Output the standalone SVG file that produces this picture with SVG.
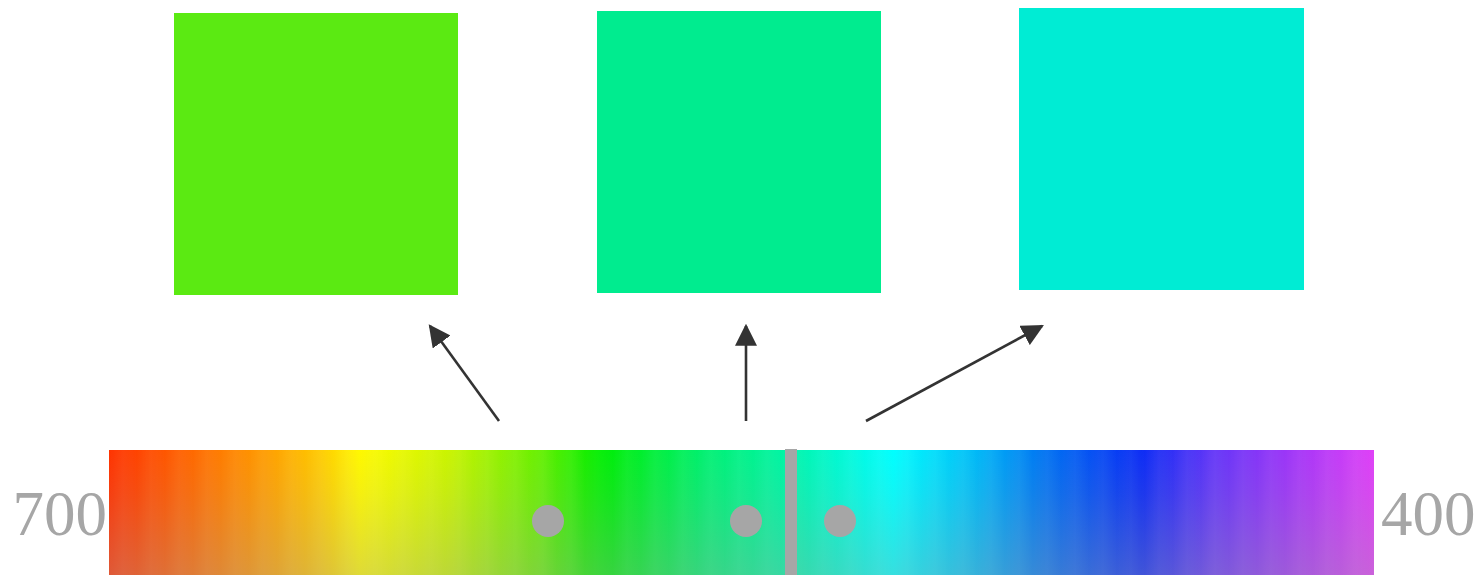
<svg xmlns="http://www.w3.org/2000/svg" width="1480" height="575" viewBox="0 0 1480 575">
  <style>
    .lbl { font-family: "Liberation Serif", "Times New Roman", serif; font-size: 63px; fill: #A6A6A6; }
    .conn { stroke: #333333; stroke-width: 2.6; fill: none; marker-end: url(#arr); }
    .dot { fill: #A6A6A6; }
  </style>
  <defs>
    <marker id="arr" viewBox="0 0 10 10" refX="9" refY="5" markerWidth="22" markerHeight="22" markerUnits="userSpaceOnUse" orient="auto">
      <path d="M0,0 L10,5 L0,10 z" fill="#333333"/>
    </marker>
    <linearGradient id="spec" gradientUnits="userSpaceOnUse" x1="109" y1="0" x2="1374" y2="0">
      <stop offset="0" stop-color="#FF3300"/>
      <stop offset="0.017" stop-color="#FF3F00"/>
      <stop offset="0.072" stop-color="#FF6E00"/>
      <stop offset="0.127" stop-color="#FFA000"/>
      <stop offset="0.165" stop-color="#FFC800"/>
      <stop offset="0.198" stop-color="#FFF800"/>
      <stop offset="0.215" stop-color="#F4FA00"/>
      <stop offset="0.27" stop-color="#C8F400"/>
      <stop offset="0.34" stop-color="#66F000"/>
      <stop offset="0.388" stop-color="#00EE00"/>
      <stop offset="0.47" stop-color="#00F070"/>
      <stop offset="0.534" stop-color="#00F5A5"/>
      <stop offset="0.60" stop-color="#00FCEC"/>
      <stop offset="0.62" stop-color="#00FFFF"/>
      <stop offset="0.68" stop-color="#00C0F8"/>
      <stop offset="0.74" stop-color="#0072F2"/>
      <stop offset="0.815" stop-color="#0A2CF5"/>
      <stop offset="0.87" stop-color="#6035F8"/>
      <stop offset="0.94" stop-color="#A535F8"/>
      <stop offset="1" stop-color="#E040F8"/>
    </linearGradient>
    <linearGradient id="fade" x1="0" y1="0" x2="0" y2="1">
      <stop offset="0" stop-color="#A0A0A0" stop-opacity="0"/>
      <stop offset="0.35" stop-color="#A0A0A0" stop-opacity="0.1"/>
      <stop offset="1" stop-color="#A0A0A0" stop-opacity="0.34"/>
    </linearGradient>
    <linearGradient id="stripeGrad" x1="0" y1="0" x2="1" y2="0">
      <stop offset="0" stop-color="#FFFFFF" stop-opacity="0"/>
      <stop offset="0.5" stop-color="#FFFFFF" stop-opacity="0.045"/>
      <stop offset="1" stop-color="#FFFFFF" stop-opacity="0"/>
    </linearGradient>
    <pattern id="stripes" patternUnits="userSpaceOnUse" x="109" y="0" width="28" height="10">
      <rect x="0" y="0" width="28" height="10" fill="url(#stripeGrad)"/>
    </pattern>
  </defs>

  <g id="swatch-1"><rect x="174" y="13" width="284" height="282" fill="#5BEA12"/></g>
  <g id="swatch-2"><rect x="597" y="11" width="284" height="282" fill="#00EC8F"/></g>
  <g id="swatch-3"><rect x="1019" y="8" width="285" height="282" fill="#00ECD4"/></g>

  <g id="spectrum">
    <rect x="109" y="450" width="1265" height="125" fill="url(#spec)"/>
    <rect x="109" y="450" width="1265" height="125" fill="url(#stripes)"/>
    <rect x="109" y="450" width="1265" height="125" fill="url(#fade)"/>
    <rect x="785" y="449" width="12" height="126" fill="#A6A6A6"/>
    <circle class="dot" cx="548" cy="521" r="16"/>
    <circle class="dot" cx="746" cy="521" r="16"/>
    <circle class="dot" cx="840" cy="521" r="16"/>
  </g>

  <g id="label-700"><text class="lbl" x="107" y="535" text-anchor="end">700</text></g>
  <g id="label-400"><text class="lbl" x="1381" y="535">400</text></g>

  <g id="connectors">
    <line class="conn" x1="499" y1="421" x2="430" y2="326"/>
    <line class="conn" x1="746" y1="421" x2="746" y2="326"/>
    <line class="conn" x1="866" y1="421" x2="1042" y2="326"/>
  </g>
</svg>
